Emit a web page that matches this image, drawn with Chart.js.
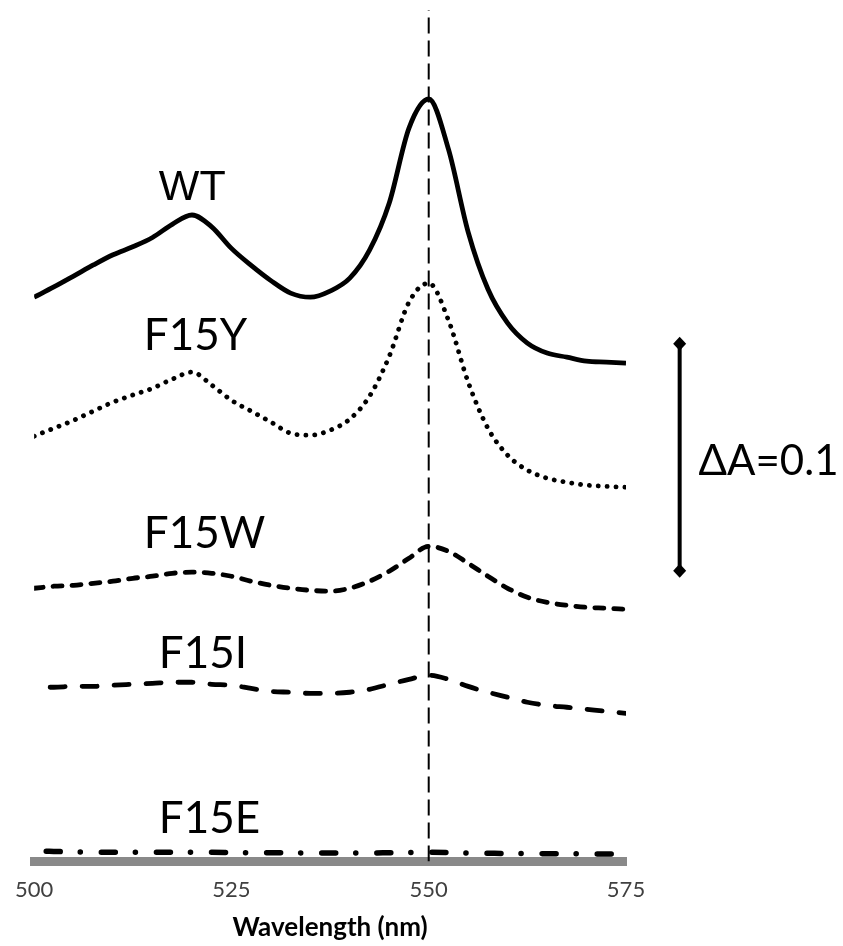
<!DOCTYPE html>
<html>
<head>
<meta charset="utf-8">
<script src="https://cdn.jsdelivr.net/npm/chart.js@4.4.0/dist/chart.umd.min.js"></script>
<style>
  html, body { margin: 0; padding: 0; background: #fff; }
  canvas { display: block; }
</style>
</head>
<body>
<canvas id="spectra" width="843" height="946"></canvas>
<script>
// wavelength grid (nm)
var wavelengths = [500, 502.5, 505, 507.5, 510, 512.5, 515, 517.5, 520, 522.5, 525, 527.5, 530, 532.5, 535,
  537.5, 540, 542.5, 545, 547.5, 550, 552.5, 555, 557.5, 560, 562.5, 565, 567.5, 570, 572.5, 575];

// absorbance, curves already offset like in the figure
var wtValues = [0.2485, 0.2530, 0.2578, 0.2627, 0.2672, 0.2707, 0.2748, 0.2806, 0.2847, 0.2795, 0.2700, 0.2625,
  0.2558, 0.2503, 0.2485, 0.2512, 0.2569, 0.2692, 0.2900, 0.3230, 0.3358, 0.3137, 0.2772, 0.2521, 0.2371,
  0.2283, 0.2239, 0.2221, 0.2203, 0.2199, 0.2195];
var f15yValues = [0.1873, 0.1908, 0.1943, 0.1983, 0.2023, 0.2054, 0.2084, 0.2124, 0.2155, 0.2098, 0.2031, 0.1983,
  0.1935, 0.1886, 0.1877, 0.1899, 0.1948, 0.2049, 0.2225, 0.2463, 0.2547, 0.2384, 0.2111, 0.1908, 0.1789,
  0.1723, 0.1688, 0.1670, 0.1657, 0.1652, 0.1648];
var f15wValues = [0.1203, 0.1212, 0.1216, 0.1225, 0.1234, 0.1247, 0.1256, 0.1269, 0.1274, 0.1269, 0.1256, 0.1234,
  0.1216, 0.1203, 0.1194, 0.1190, 0.1203, 0.1234, 0.1278, 0.1335, 0.1388, 0.1366, 0.1313, 0.1256, 0.1203,
  0.1163, 0.1141, 0.1128, 0.1119, 0.1115, 0.1110];
var f15iValues = [0.0767, 0.0767, 0.0771, 0.0771, 0.0776, 0.0780, 0.0784, 0.0789, 0.0789, 0.0780, 0.0776, 0.0762,
  0.0749, 0.0745, 0.0740, 0.0740, 0.0745, 0.0758, 0.0780, 0.0802, 0.0820, 0.0802, 0.0771, 0.0745, 0.0723,
  0.0701, 0.0687, 0.0679, 0.0670, 0.0661, 0.0652];
var f15eValues = [0.0046, 0.0044, 0.0042, 0.0041, 0.0040, 0.0040, 0.0040, 0.0040, 0.0040, 0.0040, 0.0039, 0.0038,
  0.0038, 0.0038, 0.0037, 0.0037, 0.0037, 0.0037, 0.0038, 0.0039, 0.0040, 0.0039, 0.0037, 0.0036, 0.0035,
  0.0035, 0.0034, 0.0034, 0.0033, 0.0033, 0.0033];

var xTicks = [500, 525, 550, 575];
var peakWavelength = 550;

// curve names and where they sit (nm, absorbance at text baseline)
var curveLabels = ['WT', 'F15Y', 'F15W', 'F15I', 'F15E'];
var labelWavelengths = [515.8, 513.9, 513.9, 515.8, 515.8];
var labelAbsorbance = [0.2913, 0.2252, 0.1379, 0.0850, 0.0123];

// ΔA scale bar
var scaleBarWavelength = 581.8;
var scaleBarRange = [0.128, 0.228];
var scaleBarText = 'ΔA=0.1';
var scaleTextPos = [584.2, 0.170];

function toPoints(values) {
  return values.map(function (v, i) { return { x: wavelengths[i], y: v }; });
}

var lineBase = {
  borderColor: '#000',
  backgroundColor: '#000',
  pointRadius: 0,
  fill: false,
  cubicInterpolationMode: 'monotone',
  borderJoinStyle: 'round'
};

var datasets = [
  Object.assign({}, lineBase, { label: 'WT', data: toPoints(wtValues), borderWidth: 4.8 }),
  Object.assign({}, lineBase, { label: 'F15Y', data: toPoints(f15yValues), borderWidth: 4.8,
    borderDash: [0.1, 8.8], borderCapStyle: 'round' }),
  Object.assign({}, lineBase, { label: 'F15W', data: toPoints(f15wValues), borderWidth: 4.8,
    borderDash: [9, 10], borderCapStyle: 'round' }),
  Object.assign({}, lineBase, { label: 'F15I', data: toPoints(f15iValues), borderWidth: 4.8,
    borderDash: [15, 17], borderDashOffset: 16, borderCapStyle: 'round' }),
  Object.assign({}, lineBase, { label: 'F15E', data: toPoints(f15eValues), borderWidth: 5.5,
    borderDash: [14, 20, 0.1, 21], borderDashOffset: 43, borderCapStyle: 'round' }),
  Object.assign({}, lineBase, { label: 'peak', data: [{ x: peakWavelength, y: 0 }, { x: peakWavelength, y: 0.375 }],
    borderWidth: 2, borderDash: [16, 7], cubicInterpolationMode: 'default', tension: 0 }),
  Object.assign({}, lineBase, { label: 'scale', data: [{ x: scaleBarWavelength, y: scaleBarRange[0] },
    { x: scaleBarWavelength, y: scaleBarRange[1] }], borderWidth: 4, tension: 0,
    cubicInterpolationMode: 'default', clip: false })
];

var textPlugin = {
  id: 'curveText',
  afterDatasetsDraw: function (chart) {
    var ctx = chart.ctx;
    var xs = chart.scales.x, ys = chart.scales.y;
    ctx.save();
    ctx.fillStyle = '#000';
    // diamond ends of the scale bar (points outside the chart area are skipped by Chart.js)
    chart.getDatasetMeta(6).data.forEach(function (pt) {
      ctx.beginPath();
      ctx.moveTo(pt.x, pt.y - 7);
      ctx.lineTo(pt.x + 6.5, pt.y);
      ctx.lineTo(pt.x, pt.y + 7);
      ctx.lineTo(pt.x - 6.5, pt.y);
      ctx.closePath();
      ctx.fill();
    });
    ctx.textBaseline = 'alphabetic';
    ctx.textAlign = 'left';
    curveLabels.forEach(function (t, i) {
      ctx.font = t === 'WT' ? '43px "Liberation Sans"' : '44px Lato';
      ctx.fillText(t, xs.getPixelForValue(labelWavelengths[i]), ys.getPixelForValue(labelAbsorbance[i]));
    });
    ctx.font = '42px Lato';
    ctx.fillText(scaleBarText, xs.getPixelForValue(scaleTextPos[0]), ys.getPixelForValue(scaleTextPos[1]));
    ctx.restore();
  }
};

Chart.defaults.font.family = 'Lato';

new Chart(document.getElementById('spectra').getContext('2d'), {
  type: 'line',
  data: { datasets: datasets },
  options: {
    responsive: false,
    animation: false,
    layout: { autoPadding: false, padding: { left: 32, right: 217, top: 10, bottom: 3 } },
    plugins: { legend: { display: false }, tooltip: { enabled: false } },
    scales: {
      x: {
        type: 'linear',
        min: 500,
        max: 575,
        afterBuildTicks: function (axis) {
          axis.ticks = xTicks.map(function (v) { return { value: v }; });
        },
        grid: { display: false, drawTicks: false },
        border: { display: true, color: '#898989', width: 9 },
        ticks: { padding: 15, color: '#404040', font: { size: 22 } },
        title: { display: true, text: 'Wavelength (nm)', color: '#000',
          font: { size: 26, weight: 'bold' }, padding: { top: -6, bottom: 0 } }
      },
      y: { display: false, min: 0, max: 0.375 }
    }
  },
  plugins: [textPlugin]
});
</script>
</body>
</html>
